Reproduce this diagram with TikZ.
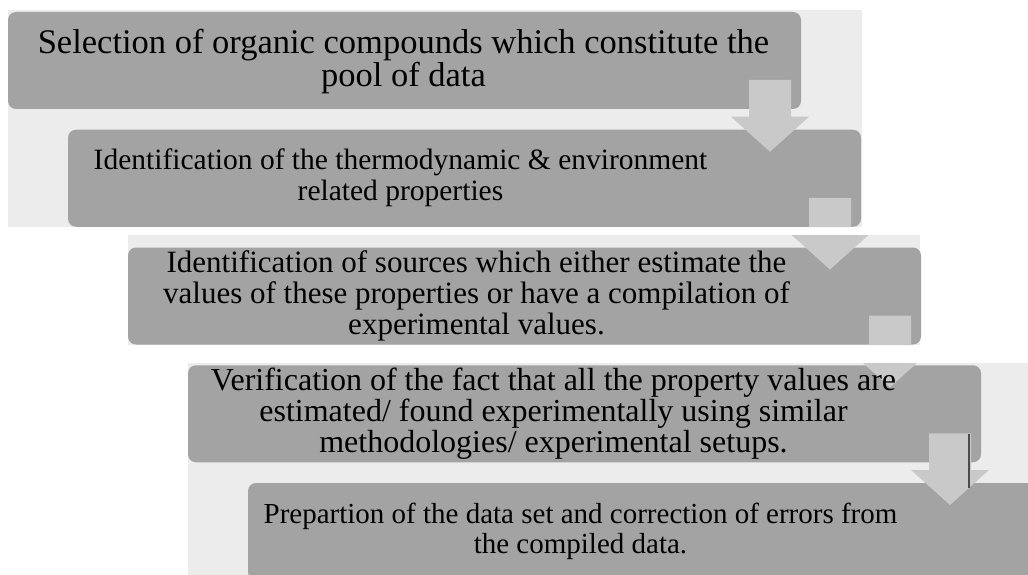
\documentclass[tikz,border=0pt]{standalone}
\usepackage{fontspec}
\setmainfont{Liberation Serif}
\usetikzlibrary{calc}
\definecolor{bandgray}{RGB}{236,236,236}
\definecolor{boxgray}{RGB}{163,163,163}
\definecolor{arrowgray}{RGB}{201,201,201}
\begin{document}
\begin{tikzpicture}[x=1pt,y=-1pt,
  stepbox/.style={fill=boxgray, rounded corners=8pt, minimum width=793pt,
    minimum height=97pt, anchor=north west, inner sep=0pt, outer sep=0pt},
  steptext/.style={align=center, text=black, inner sep=0pt},
  band/.style={fill=bandgray},
  flow/.style={fill=arrowgray}]
\useasboundingbox (0,0) rectangle (1028,575);

% light backing panels
\fill[band] (8,10) rectangle (862,227)
            (128,235) rectangle (920,345)
            (188,363) rectangle (1028,575);

% the five steps
\node[stepbox] (b1) at (8,12) {};
\node[stepbox] (b2) at (68,129.75) {};
\node[stepbox] (b3) at (128,247.5) {};
\node[stepbox] (b4) at (188,365.25) {};
\node[stepbox] (b5) at (248,483) {};

% downward block arrows between consecutive steps
\begin{scope}
  \clip (8,10) rectangle (862,227)
        (128,235) rectangle (920,345)
        (188,363) rectangle (1028,575);
  \foreach \a/\b in {b1/b2, b2/b3, b3/b4, b4/b5}{
    \coordinate (c) at ($(\a.south east)+(-31,0)$);
    \coordinate (h) at (c |- \b.north);
    \fill[flow] ($(c)+(-21,-29)$) -- ($(c)+(21,-29)$) -- ($(h)+(21,-13)$)
      -- ($(h)+(39,-13)$) -- ($(h)+(0,22)$) -- ($(h)+(-39,-13)$)
      -- ($(h)+(-21,-13)$) -- cycle;
  }
\end{scope}

% thin edge line on the last arrow
\coordinate (e1) at ($(b4.south east)+(-12,-28)$);
\coordinate (e2) at ($(e1)+(0,54)$);
\draw[line width=1.2pt, black!70] (e1) -- (e2);

% step texts
\node[steptext, font=\fontsize{34.5}{33}\selectfont] (t1)
  at ([xshift=-1pt,yshift=-1pt]b1.center)
  {Selection of organic compounds which constitute the\\pool of data};
\node[steptext, font=\fontsize{29.5}{31}\selectfont] (t2)
  at ([xshift=-64pt]b2.center)
  {Identification of the thermodynamic \& environment\\related properties};
\node[steptext, font=\fontsize{31}{31}\selectfont] (t3)
  at ([xshift=-48pt]b3.center)
  {Identification of sources which either estimate the\\values of these properties or have a compilation of\\experimental values.};
\node[steptext, font=\fontsize{32}{31}\selectfont] (t4)
  at ([xshift=-31pt]b4.center)
  {Verification of the fact that all the property values are\\estimated/ found experimentally using similar\\methodologies/ experimental setups.};
\node[steptext, font=\fontsize{29}{30}\selectfont] (t5)
  at ([xshift=-64pt]b5.center)
  {Prepartion of the data set and correction of errors from\\the compiled data.};
\end{tikzpicture}
\end{document}
